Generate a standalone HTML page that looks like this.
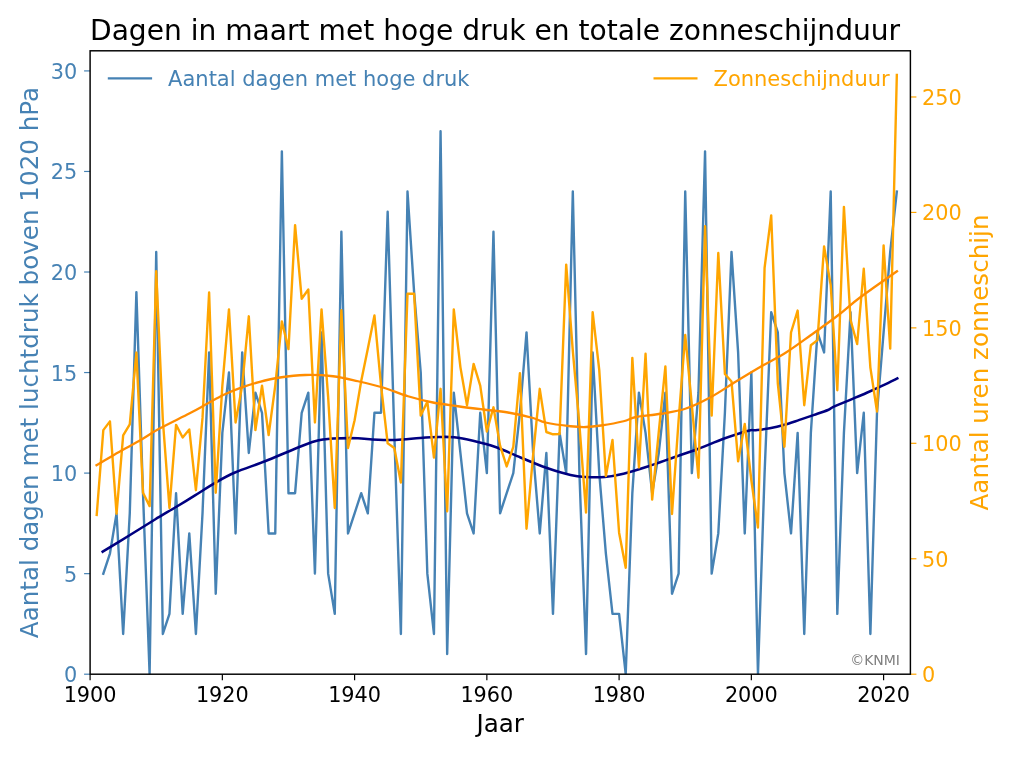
<!DOCTYPE html>
<html lang="nl"><head><meta charset="utf-8"><title>Dagen in maart met hoge druk en totale zonneschijnduur</title>
<style>
html,body{margin:0;padding:0;background:#fff;}
body{width:1013px;height:760px;overflow:hidden;}
svg{display:block;}
text{font-family:"DejaVu Sans","Liberation Sans",sans-serif;}
</style></head><body>
<svg width="1013" height="760" viewBox="0 0 1013 760">
<rect width="1013" height="760" fill="#fff"/>
<clipPath id="c"><rect x="90.1" y="50.8" width="820.3" height="623.4000000000001"/></clipPath>
<line x1="90.10" y1="674.2" x2="90.10" y2="680.2" stroke="#000" stroke-width="1.2"/>
<text x="90.10" y="702.1" font-size="20.8" text-anchor="middle" fill="#000">1900</text>
<line x1="222.35" y1="674.2" x2="222.35" y2="680.2" stroke="#000" stroke-width="1.2"/>
<text x="222.35" y="702.1" font-size="20.8" text-anchor="middle" fill="#000">1920</text>
<line x1="354.60" y1="674.2" x2="354.60" y2="680.2" stroke="#000" stroke-width="1.2"/>
<text x="354.60" y="702.1" font-size="20.8" text-anchor="middle" fill="#000">1940</text>
<line x1="486.85" y1="674.2" x2="486.85" y2="680.2" stroke="#000" stroke-width="1.2"/>
<text x="486.85" y="702.1" font-size="20.8" text-anchor="middle" fill="#000">1960</text>
<line x1="619.10" y1="674.2" x2="619.10" y2="680.2" stroke="#000" stroke-width="1.2"/>
<text x="619.10" y="702.1" font-size="20.8" text-anchor="middle" fill="#000">1980</text>
<line x1="751.35" y1="674.2" x2="751.35" y2="680.2" stroke="#000" stroke-width="1.2"/>
<text x="751.35" y="702.1" font-size="20.8" text-anchor="middle" fill="#000">2000</text>
<line x1="883.60" y1="674.2" x2="883.60" y2="680.2" stroke="#000" stroke-width="1.2"/>
<text x="883.60" y="702.1" font-size="20.8" text-anchor="middle" fill="#000">2020</text>
<line x1="84.1" y1="674.20" x2="90.1" y2="674.20" stroke="#4682b4" stroke-width="1.2"/>
<text x="77.3" y="682.20" font-size="20.8" text-anchor="end" fill="#4682b4">0</text>
<line x1="84.1" y1="573.65" x2="90.1" y2="573.65" stroke="#4682b4" stroke-width="1.2"/>
<text x="77.3" y="581.65" font-size="20.8" text-anchor="end" fill="#4682b4">5</text>
<line x1="84.1" y1="473.10" x2="90.1" y2="473.10" stroke="#4682b4" stroke-width="1.2"/>
<text x="77.3" y="481.10" font-size="20.8" text-anchor="end" fill="#4682b4">10</text>
<line x1="84.1" y1="372.55" x2="90.1" y2="372.55" stroke="#4682b4" stroke-width="1.2"/>
<text x="77.3" y="380.55" font-size="20.8" text-anchor="end" fill="#4682b4">15</text>
<line x1="84.1" y1="272.01" x2="90.1" y2="272.01" stroke="#4682b4" stroke-width="1.2"/>
<text x="77.3" y="280.01" font-size="20.8" text-anchor="end" fill="#4682b4">20</text>
<line x1="84.1" y1="171.46" x2="90.1" y2="171.46" stroke="#4682b4" stroke-width="1.2"/>
<text x="77.3" y="179.46" font-size="20.8" text-anchor="end" fill="#4682b4">25</text>
<line x1="84.1" y1="70.91" x2="90.1" y2="70.91" stroke="#4682b4" stroke-width="1.2"/>
<text x="77.3" y="78.91" font-size="20.8" text-anchor="end" fill="#4682b4">30</text>
<line x1="910.4" y1="674.20" x2="916.4" y2="674.20" stroke="#ffa500" stroke-width="1.2"/>
<text x="922.1" y="682.20" font-size="20.8" text-anchor="start" fill="#ffa500">0</text>
<line x1="910.4" y1="558.76" x2="916.4" y2="558.76" stroke="#ffa500" stroke-width="1.2"/>
<text x="922.1" y="566.76" font-size="20.8" text-anchor="start" fill="#ffa500">50</text>
<line x1="910.4" y1="443.31" x2="916.4" y2="443.31" stroke="#ffa500" stroke-width="1.2"/>
<text x="922.1" y="451.31" font-size="20.8" text-anchor="start" fill="#ffa500">100</text>
<line x1="910.4" y1="327.87" x2="916.4" y2="327.87" stroke="#ffa500" stroke-width="1.2"/>
<text x="922.1" y="335.87" font-size="20.8" text-anchor="start" fill="#ffa500">150</text>
<line x1="910.4" y1="212.42" x2="916.4" y2="212.42" stroke="#ffa500" stroke-width="1.2"/>
<text x="922.1" y="220.42" font-size="20.8" text-anchor="start" fill="#ffa500">200</text>
<line x1="910.4" y1="96.98" x2="916.4" y2="96.98" stroke="#ffa500" stroke-width="1.2"/>
<text x="922.1" y="104.98" font-size="20.8" text-anchor="start" fill="#ffa500">250</text>
<g clip-path="url(#c)" fill="none" stroke-linejoin="round" stroke-linecap="square">
<polyline points="103.32,573.65 109.94,553.54 116.55,513.32 123.16,633.98 129.77,513.32 136.39,292.12 143.00,493.21 149.61,674.20 156.22,251.90 162.84,633.98 169.45,613.87 176.06,493.21 182.68,613.87 189.29,533.43 195.90,633.98 202.51,513.32 209.12,352.45 215.74,593.76 222.35,432.88 228.96,372.55 235.57,533.43 242.19,352.45 248.80,452.99 255.41,392.66 262.02,412.77 268.64,533.43 275.25,533.43 281.86,151.35 288.48,493.21 295.09,493.21 301.70,412.77 308.31,392.66 314.92,573.65 321.54,332.34 328.15,573.65 334.76,613.87 341.38,231.79 347.99,533.43 354.60,513.32 361.21,493.21 367.82,513.32 374.44,412.77 381.05,412.77 387.66,211.68 394.27,432.88 400.89,633.98 407.50,191.57 414.11,292.12 420.73,372.55 427.34,573.65 433.95,633.98 440.56,131.24 447.17,654.09 453.79,392.66 460.40,452.99 467.01,513.32 473.62,533.43 480.24,412.77 486.85,473.10 493.46,231.79 500.07,513.32 506.69,493.21 513.30,473.10 519.91,412.77 526.52,332.34 533.14,452.99 539.75,533.43 546.36,452.99 552.98,613.87 559.59,432.88 566.20,473.10 572.81,191.57 579.42,473.10 586.04,654.09 592.65,352.45 599.26,473.10 605.88,553.54 612.49,613.87 619.10,613.87 625.71,674.20 632.33,493.21 638.94,392.66 645.55,432.88 652.16,493.21 658.77,452.99 665.39,392.66 672.00,593.76 678.61,573.65 685.23,191.57 691.84,473.10 698.45,392.66 705.06,151.35 711.67,573.65 718.29,533.43 724.90,412.77 731.51,251.90 738.12,352.45 744.74,533.43 751.35,372.55 757.96,674.20 764.58,473.10 771.19,312.23 777.80,332.34 784.41,473.10 791.02,533.43 797.64,432.88 804.25,633.98 810.86,432.88 817.48,332.34 824.09,352.45 830.70,191.57 837.31,613.87 843.92,432.88 850.54,312.23 857.15,473.10 863.76,412.77 870.38,633.98 876.99,412.77 883.60,332.34 890.21,251.90 896.83,191.57" stroke="#4682b4" stroke-width="2.4"/>
<path d="M102.70,551.70 C107.25,548.92 121.28,540.37 130.00,535.00 C138.72,529.63 147.33,524.17 155.00,519.50 C162.67,514.83 169.33,511.02 176.00,507.00 C182.67,502.98 188.42,499.47 195.00,495.40 C201.58,491.33 208.83,486.42 215.50,482.60 C222.17,478.78 226.75,476.06 235.00,472.50 C243.25,468.94 255.00,465.21 265.00,461.25 C275.00,457.29 286.67,452.08 295.00,448.75 C303.33,445.42 308.67,442.94 315.00,441.25 C321.33,439.56 325.83,439.11 333.00,438.60 C340.17,438.09 351.83,438.08 358.00,438.20 C364.17,438.32 363.75,439.00 370.00,439.30 C376.25,439.60 387.17,440.22 395.50,440.00 C403.83,439.78 412.75,438.50 420.00,438.00 C427.25,437.50 433.33,437.12 439.00,437.00 C444.67,436.88 448.33,436.67 454.00,437.30 C459.67,437.93 466.08,439.18 473.00,440.80 C479.92,442.42 487.58,444.22 495.50,447.00 C503.42,449.78 512.17,454.08 520.50,457.50 C528.83,460.92 537.17,464.58 545.50,467.50 C553.83,470.42 563.75,473.42 570.50,475.00 C577.25,476.58 580.29,476.67 586.00,477.00 C591.71,477.33 598.50,477.54 604.75,477.00 C611.00,476.46 616.21,475.54 623.50,473.75 C630.79,471.96 640.17,468.96 648.50,466.25 C656.83,463.54 665.17,460.42 673.50,457.50 C681.83,454.58 690.17,451.88 698.50,448.75 C706.83,445.62 715.17,441.76 723.50,438.75 C731.83,435.74 743.25,432.12 748.50,430.70 C753.75,429.27 751.45,430.60 755.00,430.20 C758.55,429.80 764.87,429.20 769.80,428.30 C774.73,427.40 779.67,426.20 784.60,424.80 C789.53,423.40 794.47,421.55 799.40,419.90 C804.33,418.25 809.43,416.55 814.20,414.90 C818.97,413.25 824.88,411.28 828.00,410.00 C831.12,408.72 829.30,408.85 832.90,407.20 C836.50,405.55 844.03,402.47 849.60,400.10 C855.17,397.73 860.73,395.45 866.30,393.00 C871.87,390.55 877.83,387.83 883.00,385.40 C888.17,382.97 894.92,379.57 897.30,378.40" stroke="#000080" stroke-width="2.55"/>
<polyline points="96.71,514.89 103.32,430.15 109.94,421.38 116.55,513.73 123.16,435.46 129.77,424.38 136.39,352.57 143.00,492.72 149.61,506.11 156.22,271.30 162.84,420.22 169.45,507.96 176.06,424.84 182.68,437.54 189.29,429.46 195.90,490.18 202.51,417.91 209.12,292.54 215.74,492.72 222.35,385.59 228.96,309.40 235.57,422.53 242.19,385.59 248.80,316.32 255.41,430.15 262.02,385.59 268.64,435.00 275.25,385.59 281.86,321.40 288.48,349.11 295.09,225.12 301.70,298.77 308.31,289.54 314.92,422.53 321.54,309.40 328.15,397.13 334.76,507.96 341.38,310.09 347.99,447.93 354.60,420.22 361.21,380.97 367.82,348.65 374.44,315.40 381.05,385.59 387.66,443.31 394.27,447.93 400.89,482.56 407.50,293.70 414.11,293.70 420.73,415.60 427.34,401.75 433.95,457.63 440.56,388.82 447.17,511.42 453.79,309.40 460.40,367.12 467.01,405.21 473.62,363.89 480.24,385.59 486.85,431.54 493.46,407.29 500.07,445.62 506.69,466.40 513.30,446.77 519.91,373.12 526.52,528.74 533.14,454.86 539.75,388.82 546.36,432.00 552.98,434.31 559.59,434.08 566.20,264.60 572.81,350.96 579.42,424.84 586.04,512.58 592.65,312.17 599.26,370.12 605.88,476.10 612.49,439.85 619.10,532.67 625.71,567.76 632.33,357.88 638.94,467.55 645.55,353.73 652.16,499.65 658.77,431.77 665.39,366.43 672.00,513.96 678.61,420.22 685.23,335.02 691.84,405.21 698.45,477.71 705.06,226.28 711.67,415.60 718.29,253.06 724.90,374.04 731.51,381.43 738.12,461.32 744.74,423.92 751.35,480.25 757.96,527.59 764.58,267.84 771.19,215.42 777.80,383.28 784.41,446.77 791.02,332.48 797.64,310.55 804.25,405.21 810.86,345.18 817.48,340.10 824.09,246.36 830.70,285.15 837.31,390.21 843.92,206.88 850.54,320.02 857.15,344.03 863.76,268.76 870.38,367.58 876.99,411.45 883.60,245.44 890.21,348.65 896.83,75.04" stroke="#ffa500" stroke-width="2.4"/>
<path d="M96.50,465.20 C99.53,463.42 107.55,458.58 114.70,454.50 C121.85,450.42 132.00,444.98 139.40,440.70 C146.80,436.42 150.72,433.37 159.10,428.80 C167.48,424.23 181.70,417.47 189.70,413.30 C197.70,409.13 201.42,406.88 207.10,403.80 C212.78,400.72 218.23,397.45 223.80,394.80 C229.37,392.15 234.65,390.02 240.50,387.90 C246.35,385.78 252.32,383.83 258.90,382.10 C265.48,380.37 272.32,378.68 280.00,377.50 C287.68,376.32 296.17,375.21 305.00,375.00 C313.83,374.79 324.17,375.21 333.00,376.25 C341.83,377.29 349.67,379.38 358.00,381.25 C366.33,383.12 374.67,385.00 383.00,387.50 C391.33,390.00 399.67,393.75 408.00,396.25 C416.33,398.75 424.67,400.83 433.00,402.50 C441.33,404.17 449.67,405.08 458.00,406.25 C466.33,407.42 474.67,408.46 483.00,409.50 C491.33,410.54 499.67,411.08 508.00,412.50 C516.33,413.92 526.75,416.33 533.00,418.00 C539.25,419.67 539.25,421.12 545.50,422.50 C551.75,423.88 563.75,425.50 570.50,426.25 C577.25,427.00 580.92,427.12 586.00,427.00 C591.08,426.88 594.75,426.46 601.00,425.50 C607.25,424.54 617.67,422.67 623.50,421.25 C629.33,419.83 629.75,418.25 636.00,417.00 C642.25,415.75 652.67,415.17 661.00,413.75 C669.33,412.33 677.67,411.29 686.00,408.50 C694.33,405.71 702.67,401.50 711.00,397.00 C719.33,392.50 727.67,386.58 736.00,381.50 C744.33,376.42 752.67,371.33 761.00,366.50 C769.33,361.67 777.67,357.75 786.00,352.50 C794.33,347.25 802.25,341.25 811.00,335.00 C819.75,328.75 830.33,321.25 838.50,315.00 C846.67,308.75 850.25,304.79 860.00,297.50 C869.75,290.21 890.83,275.62 897.00,271.25" stroke="#ff8c00" stroke-width="2.3"/>
</g>
<rect x="90.1" y="50.8" width="820.3" height="623.4000000000001" fill="none" stroke="#000" stroke-width="1.45"/>
<line x1="107.8" y1="78.35" x2="152.1" y2="78.35" stroke="#4682b4" stroke-width="2.4"/>
<text x="168.1" y="85.7" font-size="21.0" fill="#4682b4">Aantal dagen met hoge druk</text>
<line x1="653.5" y1="78.35" x2="697.5" y2="78.35" stroke="#ffa500" stroke-width="2.4"/>
<text x="713.5" y="85.7" font-size="21.0" fill="#ffa500">Zonneschijnduur</text>
<text x="900.0" y="665.0" font-size="14.0" text-anchor="end" fill="#808080">©KNMI</text>
<text x="495.1" y="39.9" font-size="28.1" text-anchor="middle" fill="#000">Dagen in maart met hoge druk en totale zonneschijnduur</text>
<text x="500.2" y="732.0" font-size="24.6" text-anchor="middle" fill="#000">Jaar</text>
<text transform="translate(38.0,362.5) rotate(-90)" font-size="24.6" text-anchor="middle" fill="#4682b4">Aantal dagen met luchtdruk boven 1020 hPa</text>
<text transform="translate(988.4,362.5) rotate(-90)" font-size="24.6" text-anchor="middle" fill="#ffa500">Aantal uren zonneschijn</text>
</svg></body></html>
